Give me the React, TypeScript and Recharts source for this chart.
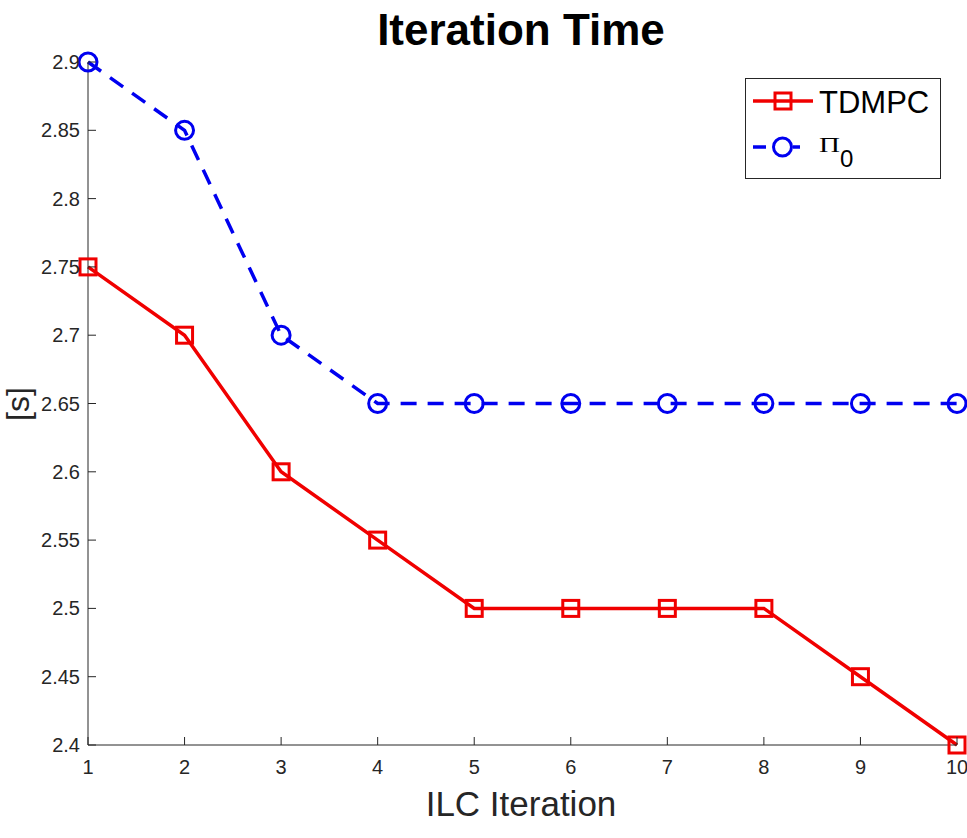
import React from "react";
import { LineChart, Line, XAxis, YAxis, Customized } from "recharts";

// ILC iteration index
const iterations = [1, 2, 3, 4, 5, 6, 7, 8, 9, 10];
// Iteration time [s] per controller
const tdmpcTimes = [2.75, 2.7, 2.6, 2.55, 2.5, 2.5, 2.5, 2.5, 2.45, 2.4];
const pi0Times = [2.9, 2.85, 2.7, 2.65, 2.65, 2.65, 2.65, 2.65, 2.65, 2.65];
// Axis ticks
const xTicks = [1, 2, 3, 4, 5, 6, 7, 8, 9, 10];
const yTicks = [2.4, 2.45, 2.5, 2.55, 2.6, 2.65, 2.7, 2.75, 2.8, 2.85, 2.9];

const data = iterations.map((it, i) => ({
  it,
  tdmpc: tdmpcTimes[i],
  pi0: pi0Times[i],
}));

const RED = "#f00000";
const BLUE = "#0000f0";
const AXIS = "#262626";
const FONT = "'Liberation Sans', Arial, Helvetica, sans-serif";

const XTick = (props: any) => {
  const { x, y, payload } = props;
  return (
    <g>
      <line x1={x} y1={y} x2={x} y2={y - 8} stroke={AXIS} strokeWidth={1} />
      <text x={x} y={y + 29} textAnchor="middle" fontSize={20} fontFamily={FONT} fill={AXIS}>
        {String(payload.value)}
      </text>
    </g>
  );
};

const YTick = (props: any) => {
  const { x, y, payload } = props;
  return (
    <g>
      <line x1={x} y1={y} x2={x + 8} y2={y} stroke={AXIS} strokeWidth={1} />
      <text x={x - 8} y={y + 7} textAnchor="end" fontSize={20} fontFamily={FONT} fill={AXIS}>
        {String(Number(payload.value.toFixed(2)))}
      </text>
    </g>
  );
};

const SquareDot = (props: any) => {
  const { cx, cy, index } = props;
  return (
    <rect
      key={`sq-${index}`}
      x={cx - 8}
      y={cy - 8}
      width={16}
      height={16}
      fill="none"
      stroke={RED}
      strokeWidth={3}
    />
  );
};

const CircleDot = (props: any) => {
  const { cx, cy, index } = props;
  return (
    <circle
      key={`ci-${index}`}
      cx={cx}
      cy={cy}
      r={9}
      fill="none"
      stroke={BLUE}
      strokeWidth={3}
    />
  );
};

const Decorations = () => (
  <g>
    <text x={521} y={45} textAnchor="middle" fontSize={44} fontWeight="bold" fontFamily={FONT} fill="#000">
      Iteration Time
    </text>
    <text x={521} y={816} textAnchor="middle" fontSize={35} fontFamily={FONT} fill={AXIS}>
      ILC Iteration
    </text>
    <text
      x={29}
      y={404}
      textAnchor="middle"
      fontSize={32}
      fontFamily={FONT}
      fill={AXIS}
      transform="rotate(-90 29 404)"
    >
      [s]
    </text>
    {/* legend */}
    <rect x={745.5} y={78.5} width={195} height={100} fill="#fff" stroke={AXIS} strokeWidth={1} />
    <line x1={753} y1={101} x2={813} y2={101} stroke={RED} strokeWidth={3.5} />
    <rect x={775} y={93} width={16} height={16} fill="none" stroke={RED} strokeWidth={3} />
    <text x={819} y={113} fontSize={31} fontFamily={FONT} fill="#000">
      TDMPC
    </text>
    <line x1={753} y1={147} x2={800} y2={147} stroke={BLUE} strokeWidth={3.5} strokeDasharray="13 7" />
    <circle cx={782.5} cy={147} r={9} fill="#fff" stroke={BLUE} strokeWidth={3} />
    <text
      x={819}
      y={152}
      fontSize={21}
      fontFamily="'Liberation Serif', 'Times New Roman', serif"
      fill="#000"
      textLength={21}
      lengthAdjust="spacingAndGlyphs"
    >
      Π
    </text>
    <text x={840} y={167} fontSize={24} fontFamily={FONT} fill="#000">
      0
    </text>
  </g>
);

export default function App() {
  return (
    <div style={{ position: "absolute", left: 0, top: 0, width: 967, height: 838, background: "#fff" }}>
      <LineChart
        width={967}
        height={838}
        data={data}
        margin={{ top: 62, right: 10, bottom: 0, left: 0 }}
      >
        <XAxis
          dataKey="it"
          type="number"
          domain={[1, 10]}
          ticks={xTicks}
          height={93}
          tickSize={0}
          tickMargin={0}
          tickLine={false}
          tick={<XTick />}
          axisLine={{ stroke: AXIS, strokeWidth: 1 }}
          interval={0}
        />
        <YAxis
          type="number"
          domain={[2.4, 2.9]}
          ticks={yTicks}
          width={88}
          tickSize={0}
          tickMargin={0}
          tickLine={false}
          tick={<YTick />}
          axisLine={{ stroke: AXIS, strokeWidth: 1 }}
          interval={0}
        />
        <Line
          dataKey="tdmpc"
          type="linear"
          stroke={RED}
          strokeWidth={3.5}
          dot={<SquareDot />}
          activeDot={false}
          isAnimationActive={false}
        />
        <Line
          dataKey="pi0"
          type="linear"
          stroke={BLUE}
          strokeWidth={3.5}
          strokeDasharray="16 11"
          dot={<CircleDot />}
          activeDot={false}
          isAnimationActive={false}
        />
        <Customized component={Decorations} />
      </LineChart>
    </div>
  );
}
